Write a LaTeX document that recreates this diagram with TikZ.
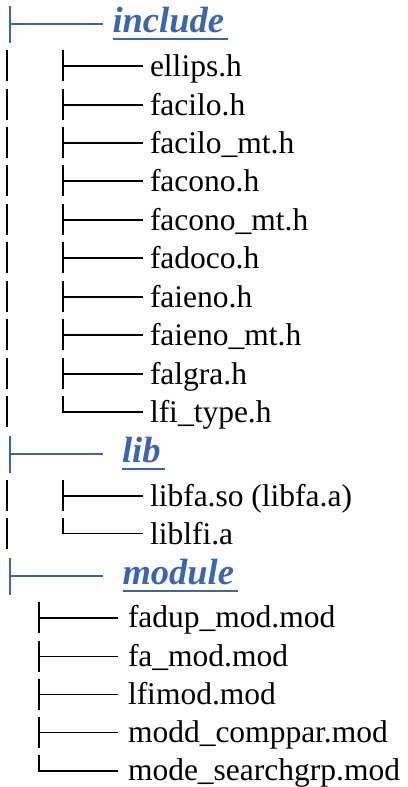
\documentclass[tikz,border=0pt]{standalone}
\usepackage{fontspec}
\setmainfont{Liberation Serif}
\definecolor{hdrblue}{RGB}{59,102,172}
\tikzset{
  x=1pt, y=-1pt,
  tline/.style={line width=1.6pt, black},
  hline/.style={line width=1.4pt, hdrblue},
  child/.style={anchor=base west, inner sep=0pt, outer sep=0pt, font=\fontsize{31.5}{36}\selectfont},
  header/.style={anchor=base west, inner sep=0pt, outer sep=0pt, text=hdrblue, font=\fontsize{36.5}{40}\selectfont\bfseries\itshape},
}
\begin{document}
\begin{tikzpicture}
\useasboundingbox (0,0) rectangle (407,787);
% headers
\foreach \nm/\tx/\x/\y in {hinc/include/112.5/24, hlib/lib/122/454, hmod/module/122.5/576}{
  \node[header] (\nm) at (\x,\y+8.5) {\tx};
  \draw[hdrblue, line width=1.5pt] ([yshift=-6.5pt]\nm.base west) -- ([yshift=-6.5pt,xshift=4pt]\nm.base east);
  \coordinate (\nm-b) at (10,\y);
  \coordinate (\nm-e) at (103,\y);
  \draw[hline] (10,\y-18) -- (10,\y+18.5);
  \draw[hline] (\nm-b) -- (\nm-e);
}
% children of include and lib
\foreach \nm/\tx/\y/\last in {c1/ellips.h/66/0, c2/facilo.h/105/0, c3/facilo\_mt.h/143/0, c4/facono.h/181/0, c5/facono\_mt.h/220/0, c6/fadoco.h/258/0, c7/faieno.h/297/0, c8/faieno\_mt.h/335/0, c9/falgra.h/374/0, c10/lfi\_type.h/412/1, l1/libfa.so (libfa.a)/496/0, l2/liblfi.a/533.5/1}{
  \node[child] (\nm) at (150,\y+10.5) {\tx};
  \coordinate (\nm-b) at (63,\y);
  \coordinate (\nm-e) at (143,\y);
  \draw[tline] (7,\y-16) -- (7,\y+15);
  \ifnum\last=1
    \draw[tline] (63,\y-16) -- (\nm-b) -- (\nm-e);
  \else
    \draw[tline] (63,\y-16) -- (63,\y+15);
    \draw[tline] (\nm-b) -- (\nm-e);
  \fi
}
% children of module
\foreach \nm/\tx/\y/\last in {m1/fadup\_mod.mod/618/0, m2/fa\_mod.mod/656.5/0, m3/lfimod.mod/694.5/0, m4/modd\_comppar.mod/732.5/0, m5/mode\_searchgrp.mod/771/1}{
  \node[child] (\nm) at (128,\y+9.5) {\tx};
  \coordinate (\nm-b) at (39,\y);
  \coordinate (\nm-e) at (118,\y);
  \ifnum\last=1
    \draw[tline] (39,\y-16) -- (\nm-b) -- (\nm-e);
  \else
    \draw[tline] (39,\y-16) -- (39,\y+15);
    \draw[tline] (\nm-b) -- (\nm-e);
  \fi
}
\end{tikzpicture}
\end{document}
